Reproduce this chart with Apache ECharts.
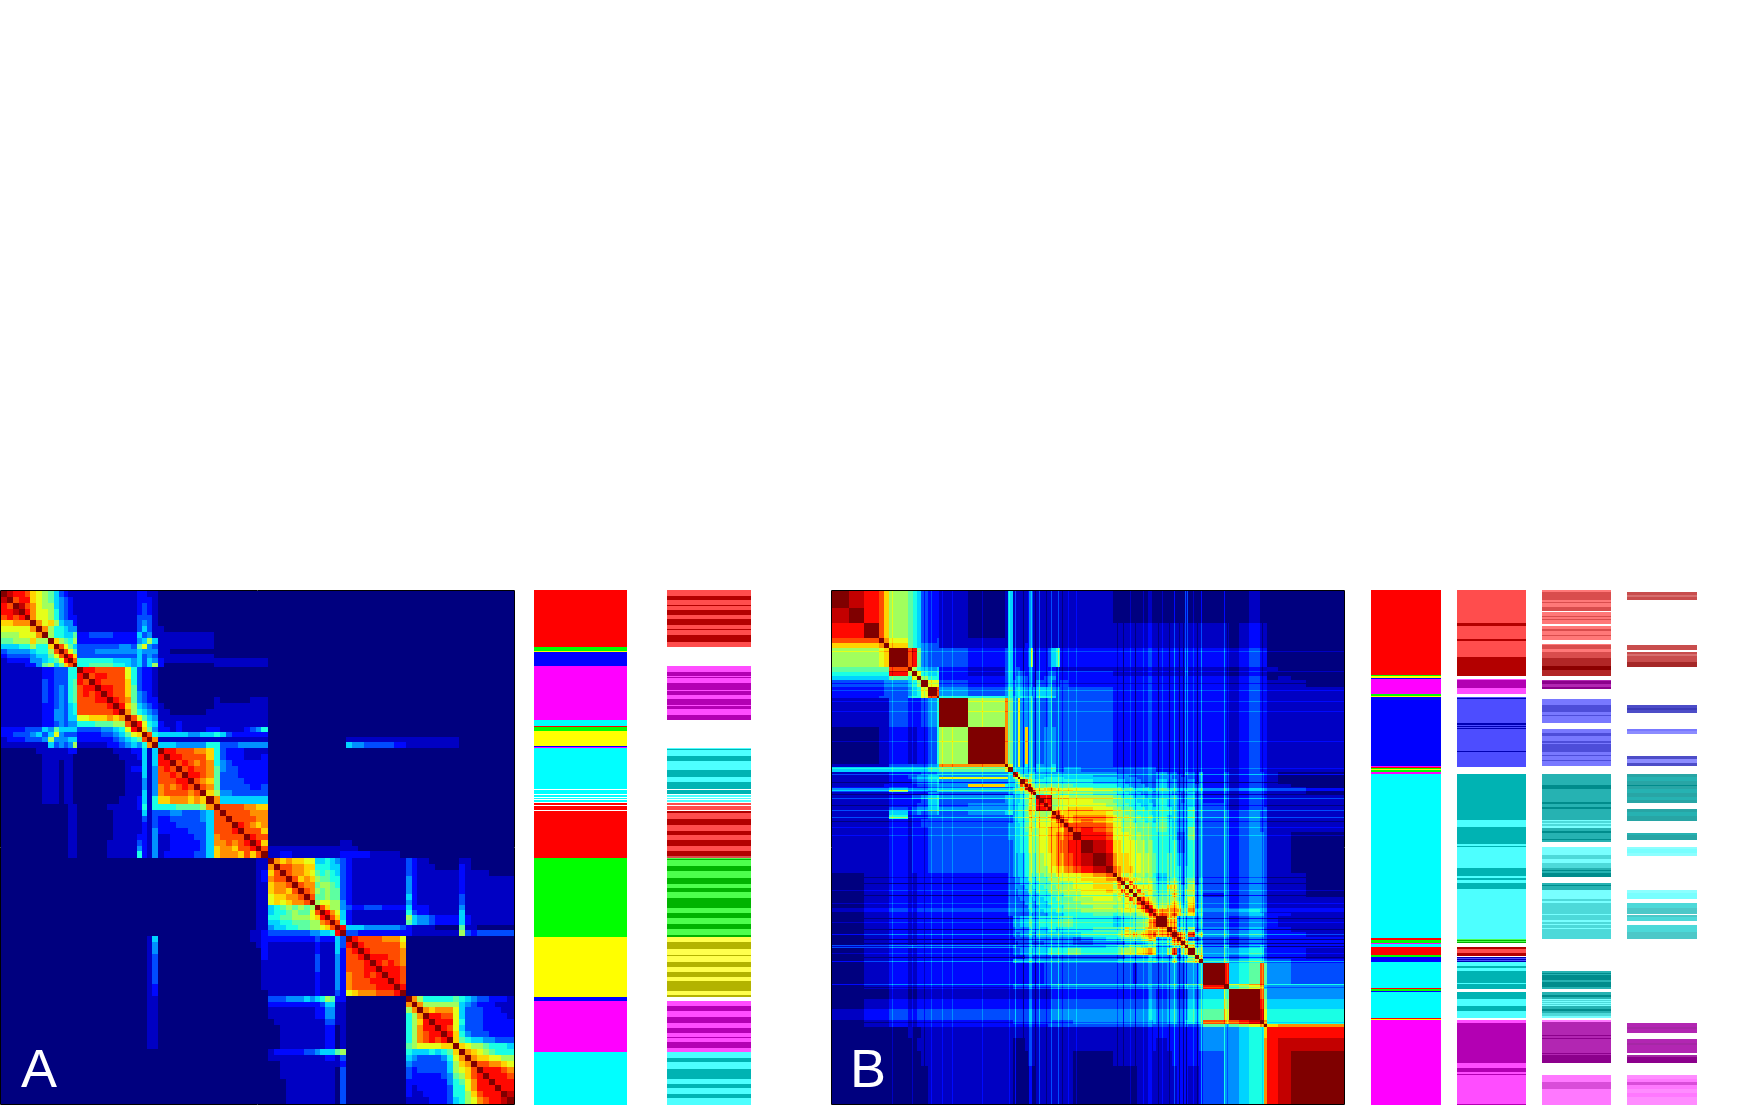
<!DOCTYPE html>
<html>
<head>
<meta charset="utf-8">
<style>
  html, body { margin: 0; padding: 0; background: #fff; }
  #main { width: 1751px; height: 1106px; }
</style>
<script src="https://cdn.jsdelivr.net/npm/echarts@6/dist/echarts.min.js"></script>
</head>
<body>
<div id="main"></div>
<script>
// band edges of matrix A (row position, 0 = top of the matrix)
var edgesA = [0,6,12,18,24, 29,35,41, 47,53,58,63,67,72,
  76,82,88,94,100,106,112,118,124,130, 136,141,146,151,
  157,163,169,175,181,187,193,199,205, 213,219,225,231,237,243,249,255,261,
  268,274,280,286,292,298,304,310,315,320,325,330,335,340,
  346,352,358,364,370,376,382,388,394,400, 406,412,417,423,429,435,441,447,453,
  459,465,471,477,483,489,495,501,507,514];

// lower triangle of matrix A, one hex level per band, last digit is the diagonal,
// missing digits on the left are 0
var levelsA = [
  "f","ef","dcf","ddef","cdcdf",
  "aabbb f","99999 b f","88899 9 b f",
  "77888 a 8 8 f","55566 8 6 6 a f","34444 5 6 6 8 c f","23333 4 5 5 7 9 c f","12222 4 4 5 6 7 9 d f","11112 2 4 7 8 5 7 a c f",
  "11111 1 1 2 2 3 3 3 6 6 f",
  "11111 1 1 2 2 3 3 3 6 6 d f",
  "11111 1 1 3 2 3 3 3 6 7 d c f",
  "11111 1 1 3 2 3 4 3 6 7 c d d f",
  "11111 1 1 3 2 3 4 3 6 7 c d c d f",
  "11111 1 1 3 2 3 4 3 6 7 c c c d d f",
  "11111 1 1 2 2 3 4 3 5 6 c c c c c d f",
  "11111 1 1 2 2 4 4 3 5 6 c c c c c c d f",
  "11111 1 1 2 2 4 4 3 5 5 9 9 a a a b a b f",
  "11111 1 1 2 2 3 4 3 4 4 6 6 6 7 7 7 8 8 c f",
  "22223 3 3 5 4 7 5 5 5 5 3 3 3 3 4 4 5 6 9 d f",
  "22333 4 5 3 5 9 4 3 3 3 2 2 2 2 3 3 4 5 7 9 a f",
  "12223 3 3 4 8 4 4 4 5 5 2 2 2 2 2 2 3 4 5 6 7 c f",
  "11111 1 1 1 5 3 4 3 4 8 1 1 1 1 1 2 2 3 4 5 4 6 b f",
  "00000 0 1 1 1 1 1 1 2 2 0 0 0 0 0 0 1 1 1 2 2 5 1 5 f",
  "00000 0 0 1 1 1 1 1 1 0 0 0 0 0 0 0 0 1 1 1 2 5 1 5 d f",
  "00000 0 0 1 1 1 0 1 1 0 0 0 0 0 0 0 0 0 1 1 1 5 1 5 d d f",
  "00000 0 0 1 1 1 0 1 1 0 0 0 0 0 0 0 0 0 1 2 2 5 1 4 c d c f",
  "00000 0 0 1 1 1 0 1 1 0 0 0 0 0 0 0 0 0 1 1 1 5 1 4 c c d c f",
  "00000 0 0 1 1 1 0 1 1 0 0 0 0 0 0 0 0 0 1 1 1 4 1 4 c c c d d f",
  "00000 0 0 1 1 1 0 1 1 0 0 0 0 0 0 0 0 0 1 1 1 4 1 4 b c b c d c f",
  "00000 0 0 1 1 1 0 1 1 0 0 0 0 0 0 0 0 0 1 1 1 5 1 4 b c c c c b c f",
  "00000 0 0 1 1 1 0 1 1 0 0 0 0 0 0 0 0 1 1 1 2 5 1 6 a a b b b a b a f",
  "00000 000 000011 0000011111 2 6 1 6 6 6 6 7 7 7 7 8 b f",
  "00000 000 000011 0000001111 1 5 1 3 3 3 4 4 3 3 3 4 5 c f",
  "00000 000 000011 0000001111 1 3 1 3 2 2 3 3 3 3 3 4 5 c c f",
  "00000 000 000011 0000001111 1 2 1 3 2 2 2 3 3 3 3 3 5 c c c f",
  "00000 000 000011 0000001111 1 2 1 4 2 2 2 2 2 3 3 3 5 c c c d f",
  "00000 000 000011 0000001111 2 2 1 4 1 1 2 2 2 2 3 3 5 b c c c c f",
  "00000 000 000011 0000011111 3 2 1 4 1 1 2 2 2 2 2 3 5 b b c b c d f",
  "00000 000 000011 0000011111 4 2 1 4 1 1 2 2 2 2 2 3 5 a b b a c c d f",
  "00000 000 000011 0000011111 6 2 1 4 1 2 2 2 2 2 3 3 5 a b b b a c a c f",
  "000000011 f","000000011 b f","000000012 a c f","000000012 b c c f",
  "000000011 a b b c f","000000011 a b b a c f","000000011 9 a a b b c f","000000011 9 a 9 a b b c f",
  "000000011 5 6 7 8 7 8 7 8 f","000000011 5 6 6 7 8 7 7 9 c f","000000011 6 6 7 7 8 8 8 9 a d f",
  "000000011 5 5 6 6 7 7 7 8 8 b c f","000000011 4 5 5 6 6 7 7 8 8 9 a c f","000000112 3 3 3 3 3 3 3 4 4 5 5 6 d f",
  "0015 000000000 000000112 2 2 2 2 2 2 2 2 3 2 2 2 5 3 f",
  "0014 000000000 000000012 1 1 1 1 1 1 1 1 2 1 1 1 5 3 d f",
  "0014 000000000 000000002 1 1 1 1 1 1 1 1 2 1 1 1 5 2 c d f",
  "0013 000000000 000000002 1 1 1 1 1 1 1 1 3 1 1 1 4 2 c c d f",
  "0013 000000000 000000001 1 1 1 1 1 1 1 1 3 1 1 1 4 2 c c c d f",
  "0013 000000000 000000001 1 1 1 1 1 1 1 1 3 1 1 1 4 2 c c c d d f",
  "0013 000000000 000000001 1 1 1 1 1 1 1 1 2 1 1 1 4 2 b c c d c d f",
  "0013 000000000 000000001 1 1 1 1 1 1 1 1 2 1 1 1 4 2 b c c c d d d f",
  "0012 000000000 000000001 1 1 1 1 1 1 1 1 2 1 1 1 4 2 b c c c c d d d f",
  "0012 000000000 000000000 1 1 1 1 1 1 1 1 2 1 1 1 3 2 9 a b b b c c c d f",
  "0011 000000000 000000000 3 3 3 4 4 4 5 4 5 6 8 7 2 2 0000000000 f",
  "0011 000000000 000000000 2 2 2 2 2 2 2 2 2 3 5 5 1 1 0000000000 b f",
  "0011 000000000 000000000 1 1 1 1 1 1 1 1 2 2 4 4 1 1 0000000000 8 b f",
  "0011 000000000 000000000 1 1 1 1 1 1 1 1 2 2 4 4 1 1 0000000000 6 8 b f",
  "0011 000000000 000000000 0 1 1 1 1 1 1 1 1 1 3 3 1 1 0000000000 6 8 a d f",
  "0011 000000000 000000000 0 0 1 1 1 1 1 1 1 1 2 2 0 1 0000000000 6 8 b d d f",
  "0011 000000000 000000000 0 0 1 1 1 1 1 1 1 1 2 2 0 1 0000000000 6 8 b c d d f",
  "0011 000000000 000000000 0 0 1 1 1 1 1 1 1 1 2 2 0 1 0000000000 6 8 b c d c d f",
  "0011 000000000 000000000 0 0 1 1 1 1 1 1 1 1 2 2 0 1 0000000000 7 8 9 9 9 9 a a f",
  "1 2 2 2 2 2 3 3 4 5 5 5 7 8 0000000000 6 5 5 5 6 5 6 7 a f",
  "1 1 1 1 1 1 1 1 1 1 2 2 1 3 0000000000 5 4 3 3 3 3 4 6 9 b f",
  "0 0 1 1 1 1 1 1 1 1 1 1 1 2 0000000000 4 3 3 3 3 3 3 5 8 a b f",
  "0 0 1 1 1 1 1 1 1 1 1 1 0 3 0000000000 3 2 3 3 3 3 3 5 8 9 a c f",
  "0 0 1 1 1 1 1 1 1 1 1 1 0 3 0000000000 3 2 2 2 2 2 3 4 7 8 a c d f",
  "0 0 0 1 1 1 1 1 1 1 1 1 0 3 0000000000 2 2 2 2 2 2 2 4 6 7 9 b d d f",
  "0 0 0 1 1 1 1 1 1 1 1 1 0 3 0000000000 2 1 2 2 2 2 2 3 6 6 9 b d d d f",
  "0 0 0 1 1 1 1 1 1 1 1 1 0 3 0000000000 2 1 1 2 2 2 2 3 6 6 8 a c d d d f",
  "0 0 0 1 1 1 1 1 1 1 1 1 0 3 0000000000 1 1 1 1 2 2 2 3 5 6 8 9 b c d d e f"
];

var edgesB = [0,17,32,47,52,57, 76, 80,85,89, 96,105,107, 136,173,176,181,
  184,186,188,193,196,199,201,204,208,212,216,220,224,228,232,236,
  241,249,262,275, 282,286,290,294,298,302,306,310,314,318,322,
  325,336,341,346,350,354,357,364,368,372,393,398,429,433,436,447,460,475,513];

var levelsB = [
  "f","ef","ddf","cccf","aaabf","8889af",
  "77777c f","66666d8f","555557 6 9 f",
  "33334 4 5 6 8 f","22223 3 4 5 6 9 f","22233 3 5 6 6 9 c f",
  "11111 3 2 2 2 3 4 6 f",
  "00011 2 1 1 2 2 3 6 8 f",
  "11111 3 333 345 b b f",
  "55555 5 555 566 7 7 9 f",
  "11111 2 222 334 4445 f",
  "11111 2 334 455 4445 d f",
  "11111 2 345 566 9995 7 9 f",
  "11111 2 234 456 4445 5 7 9 f",
  "11112 2 223 345 4a65 5 5 7 c f",
  "22222 3 222 234 3333 4 5 6 8 c f",
  "33333 7 333 335 5555 5 6 6 7 8 c f",
  "11111 2 222 244 3334 5 6 6 7 8 8 c f",
  "11111 2 233 456 4455 4 5 5 6 7 7 8 8 f",
  "11111 2 222 356 3345 4 5 5 6 7 7 8 8 d f",
  "11111 2 223 356 3445 4 5 6 6 7 8 8 9 d d f",
  "11111 3 234 456 4445 4 5 6 6 7 8 8 9 d d d f",
  "11111 5 234 345 3456 4 5 6 6 7 8 8 9 8 8 8 8 f",
  "11111 6 122 233 3333 4 5 6 6 7 7 8 8 8 8 8 9 c f",
  "11111 2 122 333 3333 4 5 6 6 7 7 8 8 9 9 9 9 a c f",
  "11111 2 122 333 3334 4 5 5 6 7 7 8 8 9 9 9 9 a a c f",
  "11111 2 122 233 3334 4 5 5 6 7 7 8 8 8 9 9 a a a a c f",
  "11111 2 122 233 3334 4 5 5 6 6 7 7 8 8 9 9 a a b b c c f",
  "11111 2 122 233 3333 4 5 5 6 6 7 7 8 8 9 9 a a b c c d d f",
  "11111 2 122 233 3333 4 4 5 5 6 6 7 7 8 8 9 9 a b b c c d e f",
  "11111 2 122 233 3333 4 4 5 5 6 6 7 7 8 8 8 9 9 a a b b c d e f",
  "00111 2 112 222 2223 4 4 5 5 6 6 6 7 7 7 8 8 8 9 9 9 9 9 a b c f",
  "00111 2 112 222 2223 3 4 4 5 5 6 6 6 7 7 7 8 8 8 9 9 9 9 a a b b f",
  "00111 2 112 222 2223 3 4 4 5 5 5 6 6 6 7 7 7 8 8 8 8 8 9 9 a a 9 c f",
  "00111 2 112 222 2223 3 4 4 4 5 5 5 6 6 6 7 7 7 8 8 8 8 9 9 a a 8 b 9 f",
  "00111 2 112 222 2223 3 3 4 4 4 5 5 5 6 6 6 7 7 7 8 8 8 8 9 9 a 9 9 c 9 f",
  "00111 2 112 222 2223 3 3 4 4 4 4 5 5 5 6 6 6 7 7 7 8 8 8 9 9 9 8 a 9 c 9 f",
  "00111 2 112 222 2223 3 3 3 4 4 4 4 5 5 5 6 6 6 7 7 7 7 8 8 9 9 8 9 8 9 c a f",
  "00111 2 112 222 2223 3 3 3 3 4 4 4 4 5 5 5 6 6 6 7 7 7 7 8 8 8 8 8 8 9 8 a c f",
  "00111 2 112 222 2223 3 3 3 3 3 4 4 4 4 5 5 5 6 6 6 7 7 7 7 8 8 7 8 8 9 8 8 a c f",
  "00111 2 112 222 2223 3 3 3 3 3 3 4 4 4 4 5 5 5 6 6 6 6 6 7 7 7 7 7 8 8 8 8 8 9 c f",
  "00111 2 112 222 2223 3 3 3 3 3 3 3 4 4 4 4 5 5 5 5 6 6 6 6 7 7 6 7 7 7 7 7 8 8 9 c f",
  "00111 2 112 222 2222 4 4 4 5 5 5 5 5 5 6 6 6 6 6 7 7 7 6 6 6 6 5 5 6 6 6 7 7 7 8 a c f",
  "00111 2 112 222 2222 3 4 4 4 4 4 5 5 5 5 5 6 6 5 6 6 6 6 6 7 7 7 7 8 a 8 8 8 8 a a b b f",
  "00111 2 112 222 2222 3 3 3 4 4 4 4 4 5 5 5 5 5 5 5 5 5 5 6 6 6 6 7 8 9 8 a 8 9 a a c a c f",
  "00111 2 112 222 2222 2 3 3 3 3 3 3 4 4 4 4 4 4 4 4 4 4 3 4 5 6 6 6 7 7 7 8 7 8 9 a a 5 7 c f",
  "00111 2 112 222 2222 2 2 3 3 3 3 3 3 3 3 4 4 4 4 4 4 4 3 3 4 4 4 4 4 5 5 5 5 5 6 6 8 6 8 a c f",
  "33333 4 444 444 4444 5 4 4 4 4 4 5 5 5 5 5 5 5 5 5 5 5 5 5 5 6 6 7 7 7 8 8 8 7 7 7 8 5 6 7 8 b f",
  "00111 2 112 222 2222 3 3 3 4 4 4 4 5 5 5 5 6 6 6 6 6 7 7 6 6 6 6 7 8 8 8 8 9 9 a a 9 5 8 c 4 8 a f",
  "00111 2 112 222 2222 2 2 2 2 3 3 3 3 3 3 3 3 3 3 3 3 3 3 3 3 3 3 3 3 4 4 4 4 4 4 5 5 4 4 6 3 5 6 8 f",
  "00111 2 112 222 2222 4 4 4 4 4 4 4 4 4 4 4 4 4 4 4 4 4 4 4 4 4 4 5 5 5 5 5 5 5 5 5 6 5 5 7 4 5 7 7 9 f",
  "00111 2 112 222 2222 2 2 2 2 2 2 2 2 2 2 3 3 3 3 3 3 3 3 3 3 3 3 3 3 3 3 2 3 3 3 3 3 3 4 4 3 3 4 4 4 5 f",
  "00111 2 112 222 2222 3 3 3 3 3 3 3 3 3 3 3 3 4 4 4 4 4 4 4 4 4 4 4 4 4 4 4 4 4 4 4 4 4 5 5 4 4 6 5 5 6 d f",
  "00111 2 112 222 2222 2 2 2 2 2 2 2 2 2 2 2 2 3 3 3 3 3 3 3 3 3 3 3 3 3 3 3 3 3 3 4 4 3 4 4 3 3 4 5 4 5 6 8 f",
  "00111 2 112 222 2222 3 3 3 3 3 3 3 3 3 3 3 3 3 3 3 3 3 4 4 4 4 4 4 4 4 4 4 4 4 4 4 5 4 5 5 4 4 6 6 5 6 c b d f",
  "00111 2 112 222 2222 2 2 2 2 2 2 2 2 2 2 2 3 3 3 3 3 3 3 3 3 3 3 3 3 3 3 3 3 3 3 3 3 3 3 3 3 3 4 3 3 4 7 5 8 b f",
  "00000 1 001 111 1111 1 1 1 1 1 1 1 1 1 1 1 1 1 1 1 1 1 1 1 1 1 1 1 1 1 1 1 1 1 1 2 2 2 2 2 2 2 2 2 3 4 4 5 6 a d",
  "00000 0 001 111 1111 0 0 0 0 1 1 1 1 1 1 1 1 1 1 1 1 1 1 1 1 1 1 1 1 1 1 1 1 1 1 1 2 1 2 2 2 2 2 2 2 3 4 4 5 6 b d e",
  "00000 0 000 111 1111 0 0 0 0 0 1 1 1 1 1 1 1 1 1 1 1 1 0 0 0 0 1 1 1 1 1 1 1 1 1 1 1 1 1 2 2 2 2 2 2 2 3 4 5 6 b d e f",
  "00000 0 000 011 1111 0 0 0 0 0 0 0 0 1 1 1 1 1 1 1 1 1 0 0 0 0 0 0 0 0 0 0 1 1 1 1 1 1 1 1 2 2 2 1 1 2 3 4 5 6 b d e f f"
];

// thin rows and columns of matrix B: [from, to, level change]
var linesB = [[60,61,1],[80,81,1],[92,93,-1],[99,100,1],[110,111,1],[120,121,1],[150,151,1],[177,178,1],
  [183,184,2],[191,192,-2],[197,200,2],[203,204,-2],[207,208,2],[214,215,-1],[219,220,2],[226,227,2],[230,231,-1],[236,237,1],[244,245,1],
  [286,287,-1],[292,293,-2],[299,300,1],[304,305,-2],[312,313,1],[317,321,1],[327,328,-2],[331,332,1],[338,339,-2],[343,344,2],[348,349,-2],[352,353,-2],[355,356,-2],[362,363,1],[366,367,-2],[370,371,2],
  [393,394,2],[396,397,-1],[398,408,-1],[418,429,1],[431,432,-1]];

// colour bars: [from, to, hue + tone]
var barA1 = [[0,57,"r0"],[57,61,"g0"],[61,62,"y0"],[62,76,"b0"],[76,130,"m0"],[130,136,"c0"],[136,137,"r0"],[137,141,"g0"],[141,156,"y0"],[156,157,"b0"],[157,158,"m0"],[158,199,"c0"],[200,204,"c0"],[205,207,"c0"],[208,209,"c0"],[210,212,"c0"],[213,215,"r0"],[216,220,"r0"],[221,268,"r0"],[268,347,"g0"],[347,407,"y0"],[407,411,"b0"],[411,462,"m0"],[462,515,"c0"]];
var barA2 = [[0,6,"r1"],[6,10,"r2"],[10,15,"r1"],[15,16,"r2"],[16,20,"r1"],[20,25,"r2"],[25,29,"r1"],[29,35,"r2"],[35,39,"r1"],[39,40,"r2"],[40,45,"r1"],[45,52,"r2"],[52,57,"r1"],
  [76,82,"m1"],[82,86,"m2"],[86,87,"m1"],[87,88,"m2"],[88,93,"m1"],[93,100,"m2"],[100,101,"m1"],[101,105,"m2"],[105,109,"m1"],[109,115,"m2"],[115,116,"m1"],[116,119,"m2"],[119,125,"m1"],[125,130,"m2"],
  [158,159,"c1"],[159,160,"c2"],[160,166,"c1"],[166,171,"c2"],[171,180,"c1"],[180,187,"c2"],[187,192,"c1"],[192,199,"c2"],[200,204,"c2"],[205,207,"c1"],[208,209,"c1"],[210,212,"c1"],
  [213,215,"r1"],[216,220,"r1"],[221,223,"r2"],[223,229,"r1"],[229,235,"r2"],[235,241,"r1"],[241,245,"r2"],[245,250,"r1"],[250,256,"r2"],[256,261,"r1"],[261,266,"r2"],[266,268,"r4"],
  [268,269,"g1"],[269,270,"g2"],[270,276,"g1"],[276,281,"g2"],[281,288,"g1"],[288,294,"g2"],[294,298,"g1"],[298,302,"g2"],[302,308,"g1"],[308,318,"g2"],[318,323,"g1"],[323,328,"g2"],[328,334,"g1"],[334,339,"g2"],[339,345,"g1"],[345,347,"g2"],
  [347,352,"y1"],[352,359,"y2"],[359,365,"y1"],[365,366,"y2"],[366,372,"y1"],[372,377,"y2"],[377,382,"y1"],[382,387,"y2"],[387,391,"y1"],[391,401,"y2"],[401,405,"y1"],[405,407,"y2"],
  [411,416,"m1"],[416,421,"m2"],[421,427,"m1"],[427,433,"m2"],[433,438,"m1"],[438,443,"m2"],[443,447,"m1"],[447,448,"m2"],[448,452,"m1"],[452,458,"m2"],[458,462,"m1"],
  [462,468,"c1"],[468,472,"c2"],[472,479,"c1"],[479,489,"c2"],[489,494,"c1"],[494,498,"c2"],[498,504,"c1"],[504,508,"c2"],[508,515,"c1"]];

var barB1 = [[0,85,"r0"],[85,86,"g0"],[86,88,"y0"],[88,89,"b0"],[89,104,"m0"],[104,106,"g0"],[106,107,"y0"],[107,176,"b0"],[176,177,"m0"],[177,178,"r0"],[178,179,"g0"],[179,180,"y0"],[180,182,"g0"],[182,184,"m0"],[184,348,"c0"],[348,350,"r0"],[350,353,"g0"],[353,354,"m0"],[354,357,"c0"],[357,365,"r0"],[365,367,"g0"],[367,372,"b0"],[372,398,"c0"],[398,399,"r0"],[399,401,"g0"],[401,402,"b0"],[402,428,"c0"],[428,429,"r0"],[429,430,"y0"],[430,515,"m0"]];
var barB2 = [[0,33,"r1"],[33,36,"r2"],[36,49,"r1"],[49,51,"r2"],[51,67,"r1"],[67,86,"r2"],
  [89,90,"m1"],[90,98,"m2"],[98,104,"m1"],
  [107,108,"b1"],[108,109,"b2"],[109,133,"b1"],[133,135,"b2"],[135,136,"b1"],[136,137,"b2"],[137,138,"b1"],[138,139,"b2"],[139,161,"b1"],[161,162,"b2"],[162,177,"b1"],
  [184,230,"c2"],[230,237,"c1"],[237,254,"c2"],[254,256,"c1"],[256,257,"c2"],[257,278,"c1"],[278,286,"c2"],[286,288,"c1"],[288,290,"c2"],[290,293,"c1"],[293,299,"c2"],[299,349,"c1"],
  [349,350,"g1"],[350,351,"g2"],[351,352,"g1"],[352,353,"g2"],
  [357,359,"r2"],[359,363,"r1"],[363,366,"r2"],
  [367,368,"b2"],[368,369,"b1"],[369,370,"b2"],[370,371,"b1"],[371,372,"b2"],
  [372,376,"c1"],[376,378,"c2"],[378,381,"c1"],[381,393,"c2"],[393,394,"c1"],[394,399,"c2"],
  [402,409,"c2"],[409,416,"c1"],[416,421,"c2"],[421,428,"c1"],
  [430,433,"m1"],[433,473,"m2"],[473,478,"m1"],[478,482,"m2"],[482,484,"m1"],[484,485,"m2"],[485,514,"m1"],[514,515,"m2"]];
var barB3 = [[0,2,"r3"],[2,10,"r4"],[10,12,"r3"],[12,13,"r4"],[13,17,"r3"],[17,21,"r4"],[22,26,"r3"],[26,27,"r4"],[27,29,"r3"],[29,30,"r4"],[30,34,"r3"],
  [36,39,"r3"],[39,41,"r4"],[41,45,"r3"],[45,46,"r4"],[46,50,"r3"],[54,55,"r3"],[55,59,"r4"],[59,62,"r3"],[62,68,"r4"],[68,76,"r5"],[76,80,"r6"],[80,86,"r5"],
  [90,91,"m5"],[91,94,"m6"],[94,97,"m5"],[97,99,"m6"],
  [109,115,"b3"],[115,122,"b4"],[122,125,"b3"],[125,126,"b4"],[126,133,"b3"],
  [139,143,"b3"],[143,146,"b4"],[146,151,"b3"],[151,153,"b4"],[153,154,"b3"],[154,162,"b4"],[162,165,"b3"],[165,166,"b4"],[166,170,"b3"],[170,171,"b4"],[171,176,"b3"],
  [184,195,"c5"],[195,199,"c6"],[199,212,"c5"],[212,214,"c6"],[214,217,"c5"],[217,219,"c6"],[219,230,"c5"],[230,231,"c3"],[231,233,"c4"],[233,234,"c3"],[234,236,"c4"],[236,238,"c3"],[238,241,"c5"],[241,243,"c6"],[243,249,"c5"],[249,250,"c6"],[250,252,"c5"],
  [257,265,"c3"],[265,269,"c4"],[269,273,"c3"],[273,278,"c4"],[278,280,"c5"],[280,281,"c6"],[281,283,"c5"],[283,287,"c6"],
  [293,295,"c5"],[295,296,"c6"],[296,300,"c5"],[300,309,"c3"],[309,311,"c4"],[311,313,"c3"],[313,324,"c4"],[324,325,"c3"],[325,330,"c4"],[330,332,"c3"],[332,334,"c4"],[334,335,"c3"],[335,338,"c4"],[338,339,"c3"],[339,349,"c4"],
  [381,383,"c5"],[383,384,"c6"],[384,385,"c5"],[385,390,"c6"],[390,392,"c5"],[392,394,"c6"],[394,397,"c6"],[397,399,"c5"],
  [402,405,"c5"],[405,407,"c6"],[407,409,"c5"],[409,410,"c3"],[410,411,"c4"],[411,412,"c3"],[412,413,"c4"],[413,414,"c3"],[414,415,"c4"],[415,416,"c3"],[416,419,"c5"],[419,421,"c6"],[421,423,"c5"],[423,426,"c4"],[426,428,"c3"],
  [430,432,"m3"],[432,445,"m5"],[445,446,"m6"],[446,448,"m5"],[448,449,"m6"],[449,463,"m5"],[463,464,"m6"],[464,465,"m5"],[465,473,"m6"],
  [485,492,"m3"],[492,499,"m4"],[499,515,"m3"]];
var barB4 = [[2,5,"r7"],[5,7,"r10"],[7,10,"r7"],[55,60,"r7"],[62,64,"r7"],[64,66,"r10"],[66,72,"r7"],[72,77,"r8"],
  [115,118,"b7"],[118,120,"b11"],[120,123,"b7"],[139,141,"b3"],[141,144,"b9"],[166,169,"b7"],[169,173,"b9"],[173,176,"b7"],
  [184,187,"c8"],[187,191,"c5"],[191,195,"c8"],[195,196,"c6"],[196,199,"c8"],[199,203,"c5"],[203,207,"c8"],[207,210,"c5"],[210,213,"c8"],
  [219,222,"c8"],[222,226,"c5"],[226,231,"c8"],[243,245,"c5"],[245,250,"c8"],
  [257,259,"c9"],[259,263,"c3"],[263,266,"c9"],
  [300,303,"c9"],[303,305,"c3"],[305,309,"c3"],[313,318,"c4"],[318,320,"c7"],[320,324,"c7"],[325,327,"c7"],[327,331,"c4"],[335,342,"c4"],[342,346,"c7"],[346,349,"c7"],
  [433,437,"m5"],[437,439,"m8"],[439,443,"m5"],[449,453,"m5"],[453,455,"m8"],[455,460,"m5"],[460,463,"m5"],[465,467,"m8"],[467,470,"m6"],[470,473,"m6"],
  [485,489,"m9"],[489,492,"m3"],[492,495,"m4"],[495,499,"m3"],[499,503,"m9"],[503,507,"m3"],[507,515,"m9"]];

var labelA = "A";
var labelB = "B";

// on-channel / off-channel value of each tone
var tones = [[255,0],[255,77],[179,0],[255,120],[217,77],[178,38],[140,0],[200,77],[165,40],[255,140],[215,110],[185,60]];
var hues = {r:[1,0,0], g:[0,1,0], b:[0,0,1], y:[1,1,0], m:[1,0,1], c:[0,1,1]};
var jet = ["#00007f","#0000ff","#007fff","#00ffff","#7fff7f","#ffff00","#ff7f00","#ff0000","#7f0000"];

function bandColor(key) {
  var h = hues[key[0]], t = tones[+key.slice(1)];
  return "rgb(" + h.map(function (on) { return on ? t[0] : t[1]; }).join(",") + ")";
}

// full symmetric list of cells [x0, x1, y0, y1, level]
function matrixCells(edges, levels, lines) {
  var rows = levels.map(function (row, i) {
    return row.replace(/\s/g, "").padStart(i + 1, "0").slice(-(i + 1));
  });
  // thin lines split the bands they fall in
  var cuts = edges.slice();
  lines.forEach(function (l) { cuts.push(l[0], l[1]); });
  cuts = cuts.filter(function (v, i, a) { return a.indexOf(v) === i; }).sort(function (a, b) { return a - b; });
  var bands = [];
  for (var n = 0; n + 1 < cuts.length; n++) {
    var base = 0, delta = 0;
    while (edges[base + 1] <= cuts[n]) base++;
    lines.forEach(function (l) { if (l[0] <= cuts[n] && cuts[n] < l[1]) delta += l[2]; });
    bands.push({from: cuts[n], to: cuts[n + 1], base: base, delta: delta});
  }
  var cells = [];
  bands.forEach(function (a, i) {
    for (var j = 0; j <= i; j++) {
      var b = bands[j], v = parseInt(rows[a.base][b.base], 16);
      if (a.base !== b.base) v = Math.max(0, Math.min(15, v + a.delta + b.delta));
      cells.push([b.from, b.to, a.from, a.to, v]);
      if (i !== j) cells.push([a.from, a.to, b.from, b.to, v]);
    }
  });
  return cells;
}

function matrixItem(params, api) {
  var a = api.coord([api.value(0), api.value(2)]);
  var b = api.coord([api.value(1), api.value(3)]);
  var x = Math.round(a[0]), y = Math.round(a[1]);
  return {
    type: "rect",
    shape: {x: x, y: y, width: Math.round(b[0]) - x, height: Math.round(b[1]) - y},
    style: {fill: api.visual("color")}
  };
}

function barItem(params, api) {
  var a = api.coord([0, api.value(0)]);
  var b = api.coord([1, api.value(1)]);
  var y = Math.round(a[1]);
  return {
    type: "rect",
    shape: {x: a[0], y: y, width: b[0] - a[0], height: Math.round(b[1]) - y},
    style: {fill: bandColor(barKeys[params.seriesIndex][params.dataIndex])}
  };
}

var panels = [
  {left: 1, width: 513, top: 591, height: 513, max: 514, edges: edgesA, levels: levelsA, lines: []},
  {left: 832, width: 512, top: 591, height: 513, max: 513, edges: edgesB, levels: levelsB, lines: linesB}
];
var bars = [
  {left: 534, width: 93, data: barA1},
  {left: 667, width: 84, data: barA2},
  {left: 1371, width: 70, data: barB1},
  {left: 1457, width: 69, data: barB2},
  {left: 1542, width: 69, data: barB3},
  {left: 1627, width: 70, data: barB4}
];

var grids = [], xAxes = [], yAxes = [], series = [], barKeys = {};
panels.forEach(function (p, i) {
  grids.push({left: p.left, top: p.top, width: p.width, height: p.height});
  xAxes.push({type: "value", gridIndex: i, min: 0, max: p.max, show: false});
  yAxes.push({type: "value", gridIndex: i, min: 0, max: p.max, inverse: true, show: false});
  series.push({
    type: "custom", xAxisIndex: i, yAxisIndex: i, renderItem: matrixItem, silent: true,
    encode: {x: [0, 1], y: [2, 3]}, data: matrixCells(p.edges, p.levels, p.lines)
  });
});
bars.forEach(function (b, k) {
  var i = panels.length + k;
  grids.push({left: b.left, top: 590, width: b.width, height: 515});
  xAxes.push({type: "value", gridIndex: i, min: 0, max: 1, show: false});
  yAxes.push({type: "value", gridIndex: i, min: 0, max: 515, inverse: true, show: false});
  barKeys[i] = b.data.map(function (d) { return d[2]; });
  series.push({
    type: "custom", xAxisIndex: i, yAxisIndex: i, renderItem: barItem, silent: true,
    encode: {y: [0, 1]}, data: b.data.map(function (d) { return [d[0], d[1]]; })
  });
});

var chart = echarts.init(document.getElementById("main"), null, {renderer: "canvas"});
chart.setOption({
  animation: false,
  backgroundColor: "#fff",
  grid: grids,
  xAxis: xAxes,
  yAxis: yAxes,
  visualMap: {
    show: false, type: "continuous", seriesIndex: [0, 1], dimension: 4,
    min: 0, max: 15, inRange: {color: jet}
  },
  series: series,
  graphic: [
    {type: "rect", z: 100, shape: {x: 0.5, y: 590.5, width: 514, height: 514}, style: {fill: "none", stroke: "#000", lineWidth: 1}},
    {type: "rect", z: 100, shape: {x: 831.5, y: 590.5, width: 513, height: 514}, style: {fill: "none", stroke: "#000", lineWidth: 1}},
    {type: "text", z: 101, left: 21, top: 1045, style: {text: labelA, fill: "#fff", font: "54px 'Liberation Sans', Arial, sans-serif"}},
    {type: "text", z: 101, left: 850, top: 1045, style: {text: labelB, fill: "#fff", font: "54px 'Liberation Sans', Arial, sans-serif"}}
  ]
});
</script>
</body>
</html>
